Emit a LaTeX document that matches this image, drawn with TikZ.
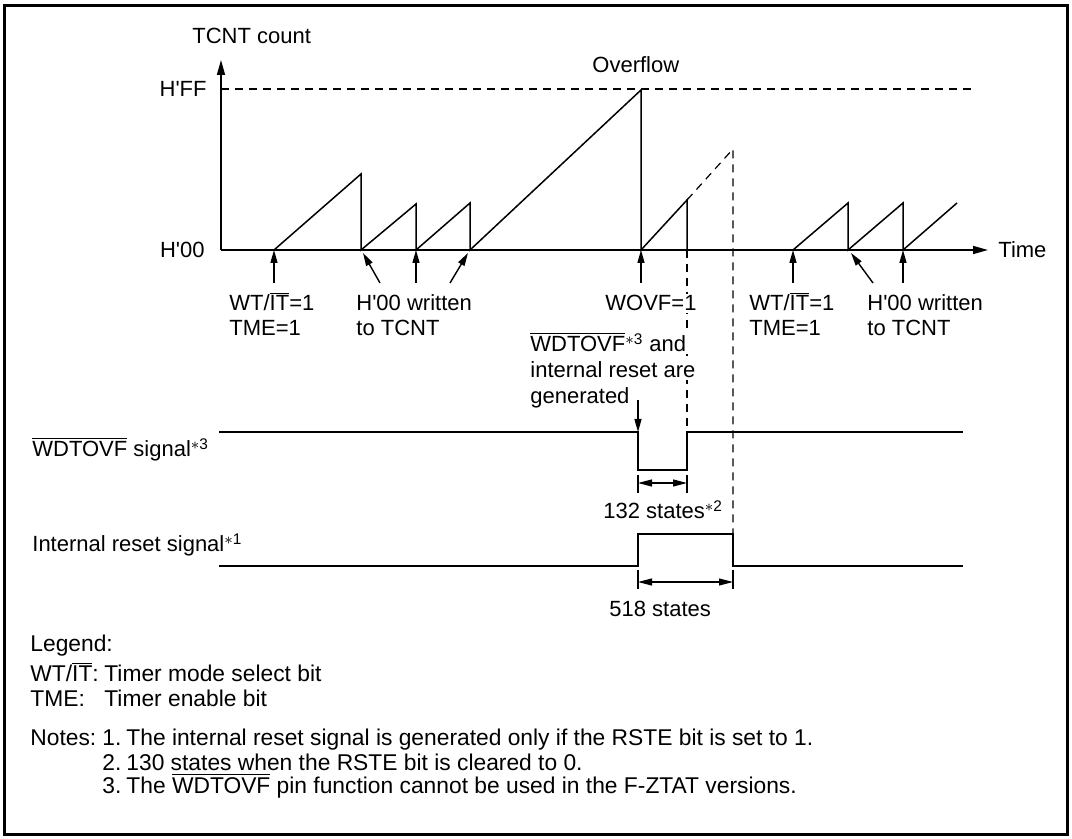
\documentclass[tikz,border=0pt]{standalone}
\usepackage{fontspec}
\setmainfont{Liberation Sans}
\usetikzlibrary{arrows.meta,positioning,calc}

\newcommand{\ovl}[1]{$\overline{\mbox{#1}}$}
\newcommand{\fnref}[1]{\textsuperscript{$\ast$#1}}
\newcommand{\aps}{\textquotesingle}

\begin{document}
\begin{tikzpicture}[
  x=0.5pt, y=-0.5pt,
  lbl/.style={font=\fontsize{11}{13}\selectfont, inner sep=0pt, anchor=base west},
  lgd/.style={font=\fontsize{11.4}{14}\selectfont, inner sep=0pt, anchor=base west},
  mask/.style={fill=white, inner sep=1pt},
  ramp/.style={line width=0.75pt, line join=miter},
  sig/.style={line width=0.9pt},
  guide/.style={line width=0.6pt, dash pattern=on 4pt off 3pt},
  ptr/.style={line width=0.7pt, -{Triangle[length=6.5pt,width=3.5pt]}},
  axisarr/.style={line width=0.8pt, -{Triangle[length=7.5pt,width=4pt]}},
  dimline/.style={line width=0.6pt, {Triangle[length=7pt,width=3.5pt]}-{Triangle[length=7pt,width=3.5pt]}},
]

\useasboundingbox (0,0) rectangle (1072,839);
\draw[line width=1.5pt] (4,6) rectangle (1067,834);

% axes
\coordinate (org) at (221,250);
\coordinate (ytop) at (221,60);
\coordinate (xend) at (988,250);
\coordinate (ffl) at (221,89);
\coordinate (ffr) at (975,89);
\draw[axisarr] (org) -- (ytop);
\draw[axisarr] (org) -- (xend);
\draw[guide] (ffl) -- (ffr);

\node[lbl] (ycap) at (192,44) {TCNT count};
\node[lbl, anchor=base east] (hff) at (207,97) {H\aps FF};
\node[lbl, anchor=base east] (h00) at (205,258) {H\aps 00};
\node[lbl] (tcap) at (998,258) {Time};
\node[lbl] (ovf) at (592,73) {Overflow};

% TCNT count
\draw[ramp] (274,250) -- (361,174) -- (361,250) -- (416,204) -- (416,250)
  -- (470,203) -- (470,250) -- (641,90) -- (641,250) -- (687,200) -- (687,250);
\draw[guide] (687,200) -- (733,149) -- (733,534);
\draw[guide] (687,250) -- (687,432);
\draw[ramp] (793,250) -- (848,203) -- (848,250) -- (903,203) -- (903,250) -- (957,203);

% pointers to the time axis
\coordinate (p1) at (274,250);  \coordinate (q1) at (274,283);
\coordinate (p2) at (363,253);  \coordinate (q2) at (380,283);
\coordinate (p3) at (416,250);  \coordinate (q3) at (416,283);
\coordinate (p4) at (468,253);  \coordinate (q4) at (450,283);
\coordinate (p5) at (641,250);  \coordinate (q5) at (641,283);
\coordinate (p6) at (793,250);  \coordinate (q6) at (793,283);
\coordinate (p7) at (851,253);  \coordinate (q7) at (873,283);
\coordinate (p8) at (903,250);  \coordinate (q8) at (903,283);
\draw[ptr] (q1) -- (p1);
\draw[ptr] (q2) -- (p2);
\draw[ptr] (q3) -- (p3);
\draw[ptr] (q4) -- (p4);
\draw[ptr] (q5) -- (p5);
\draw[ptr] (q6) -- (p6);
\draw[ptr] (q7) -- (p7);
\draw[ptr] (q8) -- (p8);

\node[lbl] (wit1) at (229,311) {WT/\ovl{IT}=1};
\node[lbl] (tme1) at (229,336) {TME=1};
\node[lbl] (wr1) at (356,311) {H\aps 00 written};
\node[lbl] (wr1b) at (356,336) {to TCNT};
\node[lbl, mask] (wovf) at (603,311) {WOVF=1};
\node[lbl] (wit2) at (749,311) {WT/\ovl{IT}=1};
\node[lbl] (tme2) at (749,336) {TME=1};
\node[lbl] (wr2) at (867,311) {H\aps 00 written};
\node[lbl] (wr2b) at (867,336) {to TCNT};

\node[lbl, mask] (gen1) at (528,352) {\ovl{WDTOVF}\fnref{3} and};
\node[lbl, mask] (gen2) at (528,378) {internal reset are};
\node[lbl] (gen3) at (530,404) {generated};
\coordinate (gtail) at (638,400);
\coordinate (gtip) at (638,432);
\draw[ptr] (gtail) -- (gtip);

% output signals
\node[lbl] (wsig) at (32,457) {\ovl{WDTOVF} signal\fnref{3}};
\node[lbl] (rsig) at (32,552) {Internal reset signal\fnref{1}};
\draw[sig] (219,432) -- (638,432) -- (638,470) -- (687,470) -- (687,432) -- (963,432);
\draw[sig] (219,566) -- (638,566) -- (638,534) -- (733,534) -- (733,566) -- (963,566);

\draw[line width=0.6pt] (638,475) -- (638,493) (687,475) -- (687,493);
\draw[dimline] (638,483) -- (687,483);
\node[lbl] (st132) at (603,519) {132 states\fnref{2}};
\draw[line width=0.6pt] (638,570) -- (638,589) (733,570) -- (733,589);
\draw[dimline] (638,582) -- (733,582);
\node[lbl] (st518) at (609,617) {518 states};

% legend and notes
\node[lgd] (lg) at (30,652) {Legend:};
\node[lgd] (lg1k) at (30,682) {WT/\ovl{IT}:};
\node[lgd] (lg1v) at (104,682) {Timer mode select bit};
\node[lgd] (lg2k) at (30,706) {TME:};
\node[lgd] (lg2v) at (104,706) {Timer enable bit};
\node[lgd] (nt) at (30,746) {Notes:};
\node[lgd] (n1k) at (102,746) {1.};
\node[lgd] (n1v) at (126,746) {The internal reset signal is generated only if the RSTE bit is set to 1.};
\node[lgd] (n2k) at (102,770) {2.};
\node[lgd] (n2v) at (126,770) {130 states when the RSTE bit is cleared to 0.};
\node[lgd] (n3k) at (102,793) {3.};
\node[lgd] (n3v) at (126,793) {The \ovl{WDTOVF} pin function cannot be used in the F-ZTAT versions.};

\end{tikzpicture}
\end{document}
